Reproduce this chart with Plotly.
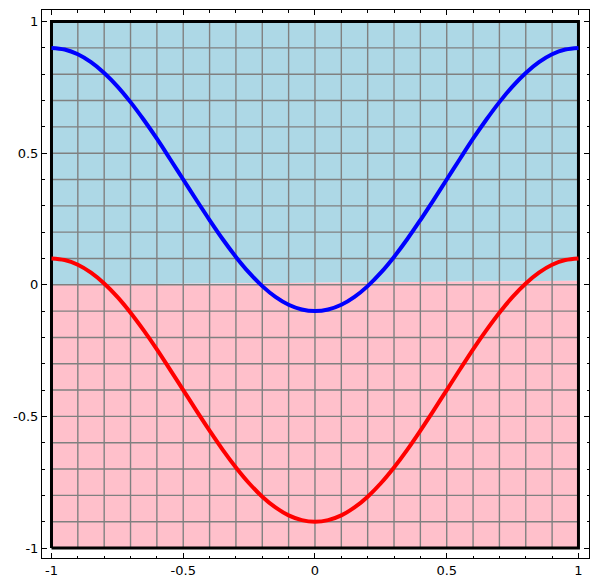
import plotly.graph_objects as go

# sample positions along x and the values
x_pts = [-1.0, -0.95, -0.9, -0.85, -0.8, -0.75, -0.7, -0.65, -0.6, -0.55, -0.5,
         -0.45, -0.4, -0.35, -0.3, -0.25, -0.2, -0.15, -0.1, -0.05, 0.0,
         0.05, 0.1, 0.15, 0.2, 0.25, 0.3, 0.35, 0.4, 0.45, 0.5,
         0.55, 0.6, 0.65, 0.7, 0.75, 0.8, 0.85, 0.9, 0.95, 1.0]
blue_vals = [0.9, 0.894, 0.876, 0.846, 0.805, 0.754, 0.694, 0.627, 0.555, 0.478, 0.4,
             0.322, 0.246, 0.173, 0.106, 0.046, -0.005, -0.046, -0.076, -0.094, -0.1,
             -0.094, -0.076, -0.046, -0.005, 0.046, 0.106, 0.173, 0.246, 0.322, 0.4,
             0.478, 0.555, 0.627, 0.694, 0.754, 0.805, 0.846, 0.876, 0.894, 0.9]
red_vals = [0.1, 0.094, 0.076, 0.046, 0.005, -0.046, -0.106, -0.173, -0.245, -0.322, -0.4,
            -0.478, -0.554, -0.627, -0.694, -0.754, -0.805, -0.846, -0.876, -0.894, -0.9,
            -0.894, -0.876, -0.846, -0.805, -0.754, -0.694, -0.627, -0.554, -0.478, -0.4,
            -0.322, -0.245, -0.173, -0.106, -0.046, 0.005, 0.046, 0.076, 0.094, 0.1]

# background regions (upper blue, lower pink), boundary slightly tilted
region_x = [-1, 1, 1, -1, -1]
blue_region_y = [0, 0.015, 1, 1, 0]
pink_region_y = [-1, -1, 0.015, 0, -1]

grid_vals = [-0.9, -0.8, -0.7, -0.6, -0.5, -0.4, -0.3, -0.2, -0.1, 0.0,
             0.1, 0.2, 0.3, 0.4, 0.5, 0.6, 0.7, 0.8, 0.9]
tick_vals = [-1, -0.5, 0, 0.5, 1]
tick_text = ["-1", "-0.5", "0", "0.5", "1"]

fig = go.Figure()

fig.add_trace(go.Scatter(x=region_x, y=blue_region_y, mode="lines", fill="toself",
                         fillcolor="#ADD8E6", line=dict(width=0), hoverinfo="skip"))
fig.add_trace(go.Scatter(x=region_x, y=pink_region_y, mode="lines", fill="toself",
                         fillcolor="#FFC0CB", line=dict(width=0), hoverinfo="skip"))

# grid lines, only inside the [-1, 1] box
gx, gy = [], []
for g in grid_vals:
    gx += [g, g, None]
    gy += [-1, 1, None]
    gx += [-1, 1, None]
    gy += [g, g, None]
fig.add_trace(go.Scatter(x=gx, y=gy, mode="lines",
                         line=dict(color="#808080", width=1.4), hoverinfo="skip"))

# inner frame
fig.add_trace(go.Scatter(x=[-1, 1, 1, -1, -1], y=[-1, -1, 1, 1, -1], mode="lines",
                         line=dict(color="black", width=3), hoverinfo="skip"))

fig.add_trace(go.Scatter(x=x_pts, y=blue_vals, mode="lines", line_shape="spline",
                         line=dict(color="blue", width=4)))
fig.add_trace(go.Scatter(x=x_pts, y=red_vals, mode="lines", line_shape="spline",
                         line=dict(color="red", width=4)))

axis_style = dict(
    tickvals=tick_vals,
    ticktext=tick_text,
    ticks="inside",
    ticklen=5,
    tickwidth=1,
    tickcolor="black",
    tickfont=dict(family="DejaVu Sans", size=13, color="black"),
    showline=True,
    linecolor="black",
    linewidth=1,
    mirror="ticks",
    showgrid=False,
    zeroline=False,
    automargin=False,
    minor=dict(dtick=0.1, tick0=0, ticks="inside", ticklen=2.5, tickwidth=1,
               tickcolor="black", showgrid=False),
)

# the page body adds an 8px offset, so the figure is 8px smaller each way
fig.update_layout(
    width=590,
    height=576,
    margin=dict(l=34, r=9, t=2, b=26, autoexpand=False),
    showlegend=False,
    plot_bgcolor="white",
    paper_bgcolor="white",
    font=dict(family="DejaVu Sans", size=13, color="black"),
    xaxis=dict(range=[-1.036, 1.04], **axis_style),
    yaxis=dict(range=[-1.038, 1.044], **axis_style),
)

fig.write_html("out.html")
